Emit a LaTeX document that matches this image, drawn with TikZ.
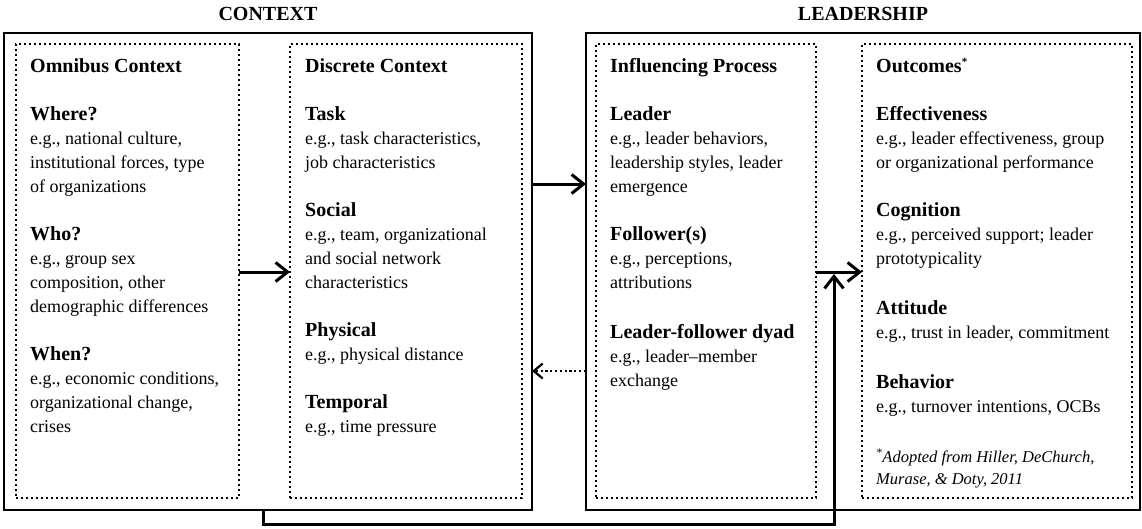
\documentclass[tikz,border=0pt]{standalone}
\usepackage{fontspec}
\setmainfont{Liberation Serif}
\usetikzlibrary{arrows.meta}
\newcommand{\hd}{\fontsize{20}{24}\selectfont\bfseries}
\begin{document}
\begin{tikzpicture}[x=1pt,y=-1pt,
  outer/.style={draw, line width=2pt, outer sep=0pt, inner sep=0pt, anchor=north west},
  inner/.style={draw, line width=2.4pt, dash pattern=on 2.4pt off 2.6pt, outer sep=0pt, inner sep=0pt, anchor=north west},
  body/.style={anchor=north west, inner sep=0pt, align=left, font=\fontsize{18}{24}\selectfont},
  ttl/.style={font=\fontsize{20}{24}\selectfont\bfseries, inner sep=0pt, anchor=base},
  conn/.style={line width=3pt, -{Straight Barb[length=12pt,width=19pt]}},
  dotconn/.style={line width=2.2pt, dash pattern=on 2.2pt off 2.6pt, -{Straight Barb[length=9pt,width=15pt]}},
  ]
\useasboundingbox (0,0) rectangle (1142,528);

% outer boxes
\node[outer, minimum width=528pt, minimum height=477pt] (ctx) at (4,33) {};
\node[outer, minimum width=554pt, minimum height=477pt] (lead) at (586,33) {};
% inner dotted boxes
\node[inner, minimum width=223pt, minimum height=454pt] (omni) at (16,44) {};
\node[inner, minimum width=232pt, minimum height=454pt] (disc) at (290,44) {};
\node[inner, minimum width=220pt, minimum height=454pt] (infl) at (596,44) {};
\node[inner, minimum width=270pt, minimum height=454pt] (outc) at (862,44) {};

% titles
\node[ttl] (ctxt) at ([yshift=13pt]ctx.north) {CONTEXT};
\node[ttl] (leadt) at ([yshift=13pt]lead.north) {LEADERSHIP};

% texts
\node[body] (omnit) at (30,58) {{\hd Omnibus Context}\\[24pt]
{\hd Where?}\\
e.g., national culture,\\
institutional forces, type\\
of organizations\\[24pt]
{\hd Who?}\\
e.g., group sex\\
composition, other\\
demographic differences\\[24pt]
{\hd When?}\\
e.g., economic conditions,\\
organizational change,\\
crises};

\node[body] (disct) at (305,58) {{\hd Discrete Context}\\[24pt]
{\hd Task}\\
e.g., task characteristics,\\
job characteristics\\[24pt]
{\hd Social}\\
e.g., team, organizational\\
and social network\\
characteristics\\[24pt]
{\hd Physical}\\
e.g., physical distance\\[24pt]
{\hd Temporal}\\
e.g., time pressure};

\node[body] (inflt) at (610,58) {{\hd Influencing Process}\\[24pt]
{\hd Leader}\\
e.g., leader behaviors,\\
leadership styles, leader\\
emergence\\[24pt]
{\hd Follower(s)}\\
e.g., perceptions,\\
attributions\\[26pt]
{\hd Leader-follower dyad}\\
e.g., leader--member\\
exchange};

\node[body] (outct) at (876,58) {{\hd Outcomes\textsuperscript{\fontsize{11}{12}\selectfont *}}\\[24pt]
{\hd Effectiveness}\\
e.g., leader effectiveness, group\\
or organizational performance\\[24pt]
{\hd Cognition}\\
e.g., perceived support; leader\\
prototypicality\\[26pt]
{\hd Attitude}\\
e.g., trust in leader, commitment\\[26pt]
{\hd Behavior}\\
e.g., turnover intentions, OCBs\\[26pt]
{\fontsize{16.5}{22}\selectfont\itshape \textsuperscript{*}Adopted from Hiller, DeChurch,}\\[-2pt]
{\fontsize{16.5}{22}\selectfont\itshape Murase, \& Doty, 2011}};

% connectors
\draw[conn] (omni.east |- 0,272) -- (disc.west |- 0,272);
\draw[conn] (ctx.east |- 0,184) -- (lead.west |- 0,184);
\draw[dotconn] (lead.west |- 0,371) -- (ctx.east |- 0,371);
\draw[conn] (infl.east |- 0,272) -- (outc.west |- 0,272);
\coordinate (fb1) at (263,524);
\coordinate (fb2) at (834,524);
\coordinate (fbtip) at (834,274);
\draw[conn] (ctx.south -| fb1) -- (fb1) -- (fb2) -- (fbtip);
\end{tikzpicture}
\end{document}
